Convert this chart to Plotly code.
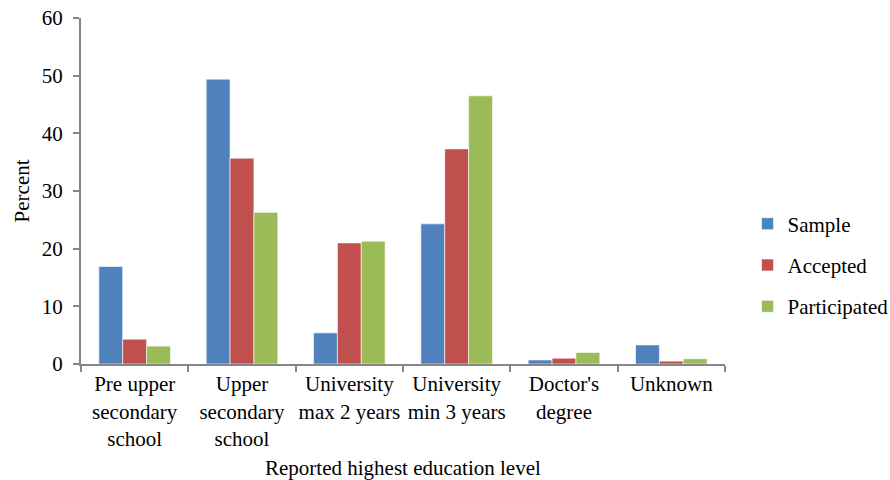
import plotly.graph_objects as go

categories = [
    "Pre upper<br>secondary<br>school",
    "Upper<br>secondary<br>school",
    "University<br>max 2 years",
    "University<br>min 3 years",
    "Doctor's<br>degree",
    "Unknown",
]
sample = [16.9, 49.4, 5.4, 24.3, 0.7, 3.3]
accepted = [4.3, 35.7, 21.0, 37.3, 1.0, 0.5]
participated = [3.1, 26.3, 21.3, 46.5, 2.0, 0.9]

series = [
    ("Sample", sample, "#4F81BD"),
    ("Accepted", accepted, "#C0504D"),
    ("Participated", participated, "#9BBB59"),
]

font_family = "Liberation Serif"
font_size = 21
axis_color = "#868686"

fig = go.Figure()
for i, (name, vals, color) in enumerate(series):
    fig.add_trace(go.Bar(
        x=categories, y=vals, name=name,
        marker=dict(color=color, line=dict(color="rgba(255,255,255,0.6)", width=1)),
        legendgroup=f"g{i}",
    ))

fig.update_layout(
    width=890, height=480,
    margin=dict(l=81, r=165, t=18, b=116, autoexpand=False),
    paper_bgcolor="white", plot_bgcolor="white",
    font=dict(family=font_family, size=font_size, color="#000000"),
    barmode="group", bargap=0.333, bargroupgap=0,
    showlegend=True,
    legend=dict(
        x=1.035, y=0.286, xanchor="left", yanchor="middle",
        font=dict(family=font_family, size=font_size), tracegroupgap=11,
        itemwidth=30,
    ),
    annotations=[
        dict(text="Reported highest education level", xref="paper", yref="paper",
             x=0.5, y=-0.30, xanchor="center", yanchor="middle", showarrow=False,
             font=dict(family=font_family, size=font_size)),
        dict(text="Percent", xref="paper", yref="paper", textangle=-90,
             x=-0.091, y=0.5, xanchor="center", yanchor="middle", showarrow=False,
             font=dict(family=font_family, size=font_size)),
    ],
)

fig.update_xaxes(
    type="category", automargin=False, tickangle=0,
    showline=True, linecolor=axis_color, linewidth=2,
    ticks="outside", ticklen=6, tickcolor=axis_color, tickwidth=2,
    tickson="boundaries",
    tickfont=dict(family=font_family, size=font_size),
    showgrid=False, zeroline=False,
)
fig.update_yaxes(
    range=[0, 60], dtick=10, automargin=False,
    showline=True, linecolor=axis_color, linewidth=2,
    ticks="outside", ticklen=6, tickcolor=axis_color, tickwidth=2,
    ticklabelstandoff=6,
    tickfont=dict(family=font_family, size=font_size),
    showgrid=False, zeroline=False,
)

fig.write_html("out.html")
